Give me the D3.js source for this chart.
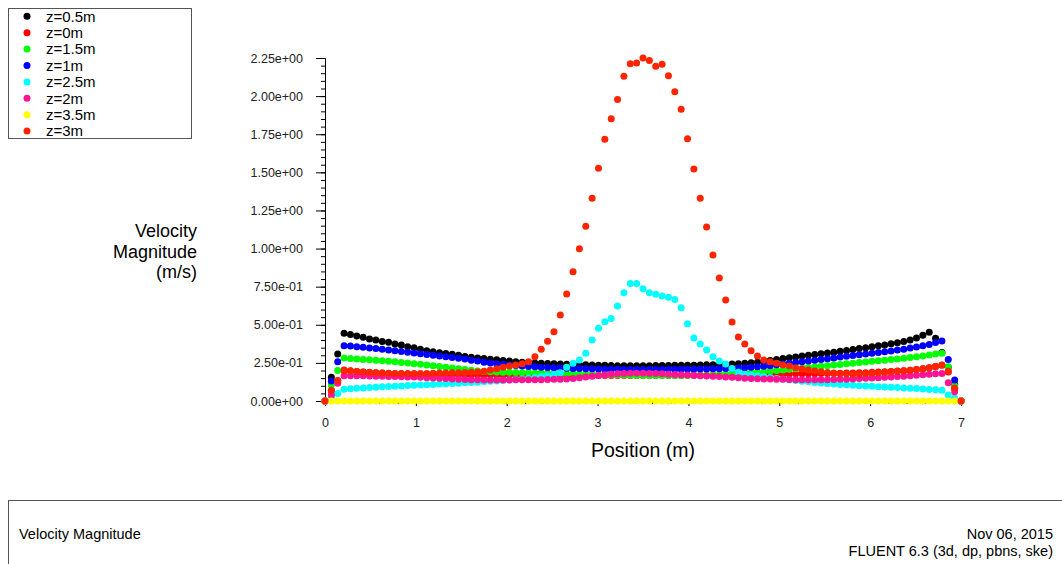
<!DOCTYPE html>
<html>
<head>
<meta charset="utf-8">
<script src="https://cdn.jsdelivr.net/npm/d3@7"></script>
<style>
    body { margin: 0; background: #fff; }
    svg { display: block; font-family: "Liberation Sans", Arial, sans-serif; }
</style>
</head>
<body>
<div id="chart"></div>
<script>
// positions along the line (m)
var positions = [
    0, 0.07, 0.14, 0.21, 0.28, 0.35, 0.42, 0.49, 0.56, 0.63,
    0.7, 0.77, 0.84, 0.91, 0.98, 1.05, 1.12, 1.19, 1.26, 1.33,
    1.4, 1.47, 1.54, 1.61, 1.68, 1.75, 1.82, 1.89, 1.96, 2.03,
    2.1, 2.17, 2.24, 2.31, 2.38, 2.45, 2.52, 2.59, 2.66, 2.73,
    2.8, 2.87, 2.94, 3.01, 3.08, 3.15, 3.22, 3.29, 3.36, 3.43,
    3.5, 3.57, 3.64, 3.71, 3.78, 3.85, 3.92, 3.99, 4.06, 4.13,
    4.2, 4.27, 4.34, 4.41, 4.48, 4.55, 4.62, 4.69, 4.76, 4.83,
    4.9, 4.97, 5.04, 5.11, 5.18, 5.25, 5.32, 5.39, 5.46, 5.53,
    5.6, 5.67, 5.74, 5.81, 5.88, 5.95, 6.02, 6.09, 6.16, 6.23,
    6.3, 6.37, 6.44, 6.51, 6.58, 6.65, 6.72, 6.79, 6.86, 6.93,
    7
];

var z05 = [
    0, 0.156, 0.308, 0.444, 0.437, 0.426, 0.418, 0.407, 0.400, 0.390,
    0.385, 0.374, 0.367, 0.356, 0.350, 0.339, 0.330, 0.323, 0.316, 0.312,
    0.306, 0.300, 0.292, 0.287, 0.282, 0.278, 0.274, 0.270, 0.265, 0.262,
    0.258, 0.255, 0.252, 0.250, 0.248, 0.246, 0.244, 0.243, 0.241, 0.240,
    0.238, 0.237, 0.236, 0.235, 0.234, 0.233, 0.232, 0.232, 0.232, 0.232,
    0.232, 0.232, 0.233, 0.233, 0.233, 0.234, 0.234, 0.235, 0.235, 0.236,
    0.237, 0.238, 0.239, 0.240, 0.242, 0.244, 0.247, 0.251, 0.255, 0.260,
    0.266, 0.272, 0.278, 0.283, 0.289, 0.295, 0.300, 0.305, 0.310, 0.315,
    0.320, 0.326, 0.332, 0.338, 0.344, 0.350, 0.356, 0.362, 0.368, 0.375,
    0.382, 0.390, 0.400, 0.413, 0.432, 0.451, 0.411, 0.318, 0.222, 0.110,
    0
];

var z0 = [
    0, 0.068, 0.133, 0.203, 0.198, 0.194, 0.190, 0.187, 0.185, 0.183,
    0.181, 0.179, 0.178, 0.177, 0.176, 0.175, 0.174, 0.174, 0.173, 0.173,
    0.172, 0.172, 0.172, 0.171, 0.171, 0.171, 0.170, 0.170, 0.170, 0.170,
    0.170, 0.170, 0.170, 0.169, 0.169, 0.169, 0.169, 0.169, 0.169, 0.168,
    0.168, 0.168, 0.168, 0.168, 0.168, 0.168, 0.168, 0.168, 0.168, 0.168,
    0.168, 0.168, 0.168, 0.168, 0.168, 0.168, 0.168, 0.169, 0.169, 0.169,
    0.169, 0.169, 0.169, 0.170, 0.170, 0.170, 0.170, 0.171, 0.172, 0.173,
    0.174, 0.175, 0.176, 0.177, 0.178, 0.178, 0.179, 0.179, 0.180, 0.180,
    0.181, 0.182, 0.183, 0.184, 0.185, 0.186, 0.188, 0.190, 0.192, 0.194,
    0.196, 0.199, 0.202, 0.206, 0.211, 0.218, 0.227, 0.236, 0.190, 0.083,
    0
];

var z15 = [
    0, 0.105, 0.200, 0.282, 0.279, 0.276, 0.273, 0.270, 0.267, 0.264,
    0.261, 0.257, 0.253, 0.249, 0.245, 0.241, 0.236, 0.231, 0.226, 0.221,
    0.216, 0.211, 0.206, 0.201, 0.197, 0.194, 0.192, 0.190, 0.189, 0.188,
    0.187, 0.186, 0.185, 0.184, 0.183, 0.182, 0.181, 0.180, 0.179, 0.178,
    0.177, 0.176, 0.175, 0.174, 0.173, 0.172, 0.171, 0.170, 0.169, 0.168,
    0.168, 0.167, 0.167, 0.167, 0.167, 0.167, 0.168, 0.168, 0.169, 0.170,
    0.171, 0.172, 0.174, 0.176, 0.178, 0.180, 0.183, 0.186, 0.189, 0.192,
    0.196, 0.200, 0.204, 0.208, 0.212, 0.216, 0.220, 0.224, 0.228, 0.232,
    0.236, 0.240, 0.244, 0.248, 0.252, 0.256, 0.260, 0.264, 0.268, 0.272,
    0.276, 0.280, 0.285, 0.290, 0.296, 0.302, 0.308, 0.313, 0.225, 0.100,
    0
];

var z1 = [
    0, 0.131, 0.258, 0.363, 0.360, 0.356, 0.352, 0.348, 0.344, 0.340,
    0.335, 0.330, 0.325, 0.320, 0.315, 0.310, 0.305, 0.300, 0.295, 0.290,
    0.285, 0.280, 0.275, 0.268, 0.262, 0.255, 0.250, 0.245, 0.241, 0.237,
    0.233, 0.230, 0.227, 0.224, 0.222, 0.220, 0.218, 0.216, 0.215, 0.214,
    0.213, 0.212, 0.211, 0.210, 0.209, 0.208, 0.208, 0.207, 0.207, 0.207,
    0.207, 0.207, 0.207, 0.207, 0.208, 0.208, 0.208, 0.209, 0.209, 0.210,
    0.210, 0.211, 0.212, 0.213, 0.214, 0.216, 0.218, 0.221, 0.224, 0.228,
    0.232, 0.237, 0.242, 0.247, 0.252, 0.257, 0.262, 0.267, 0.272, 0.277,
    0.282, 0.288, 0.293, 0.298, 0.303, 0.308, 0.313, 0.318, 0.323, 0.328,
    0.334, 0.340, 0.347, 0.354, 0.362, 0.370, 0.384, 0.394, 0.273, 0.138,
    0
];

var z25 = [
    0, 0.030, 0.050, 0.077, 0.080, 0.083, 0.086, 0.089, 0.091, 0.093,
    0.095, 0.097, 0.099, 0.101, 0.103, 0.105, 0.107, 0.109, 0.111, 0.113,
    0.115, 0.117, 0.119, 0.121, 0.123, 0.126, 0.129, 0.132, 0.135, 0.138,
    0.141, 0.145, 0.149, 0.154, 0.160, 0.166, 0.174, 0.186, 0.221, 0.247,
    0.269, 0.313, 0.400, 0.477, 0.520, 0.542, 0.623, 0.710, 0.770, 0.770,
    0.737, 0.710, 0.700, 0.689, 0.680, 0.665, 0.612, 0.507, 0.413, 0.374,
    0.335, 0.291, 0.262, 0.243, 0.214, 0.188, 0.176, 0.170, 0.166, 0.160,
    0.154, 0.148, 0.143, 0.138, 0.134, 0.130, 0.126, 0.122, 0.118, 0.115,
    0.112, 0.109, 0.106, 0.103, 0.100, 0.098, 0.096, 0.094, 0.092, 0.090,
    0.088, 0.086, 0.084, 0.082, 0.079, 0.076, 0.073, 0.070, 0.040, 0.020,
    0
];

var z2 = [
    0, 0.040, 0.116, 0.166, 0.166, 0.165, 0.165, 0.164, 0.163, 0.162,
    0.161, 0.160, 0.159, 0.158, 0.157, 0.155, 0.153, 0.151, 0.149, 0.147,
    0.145, 0.143, 0.141, 0.140, 0.139, 0.138, 0.138, 0.138, 0.138, 0.138,
    0.139, 0.139, 0.139, 0.140, 0.140, 0.141, 0.142, 0.143, 0.145, 0.148,
    0.152, 0.157, 0.162, 0.167, 0.172, 0.176, 0.179, 0.181, 0.182, 0.182,
    0.182, 0.181, 0.180, 0.178, 0.176, 0.174, 0.172, 0.170, 0.168, 0.166,
    0.164, 0.162, 0.160, 0.158, 0.156, 0.153, 0.150, 0.148, 0.146, 0.145,
    0.144, 0.143, 0.142, 0.141, 0.140, 0.139, 0.139, 0.139, 0.139, 0.140,
    0.141, 0.142, 0.143, 0.145, 0.147, 0.149, 0.151, 0.153, 0.156, 0.158,
    0.161, 0.163, 0.166, 0.169, 0.172, 0.175, 0.178, 0.180, 0.120, 0.060,
    0
];

var z35 = [
    0, 0, 0, 0, 0, 0, 0, 0, 0, 0,
    0, 0, 0, 0, 0, 0, 0, 0, 0, 0,
    0, 0, 0, 0, 0, 0, 0, 0, 0, 0,
    0, 0, 0, 0, 0, 0, 0, 0, 0, 0,
    0, 0, 0, 0, 0, 0, 0, 0, 0, 0,
    0, 0, 0, 0, 0, 0, 0, 0, 0, 0,
    0, 0, 0, 0, 0, 0, 0, 0, 0, 0,
    0, 0, 0, 0, 0, 0, 0, 0, 0, 0,
    0, 0, 0, 0, 0, 0, 0, 0, 0, 0,
    0, 0, 0, 0, 0, 0, 0, 0, 0, 0,
    0
];

var z3 = [
    0, 0.070, 0.135, 0.200, 0.197, 0.193, 0.190, 0.188, 0.186, 0.184,
    0.182, 0.181, 0.180, 0.180, 0.180, 0.180, 0.181, 0.182, 0.183, 0.184,
    0.185, 0.186, 0.187, 0.188, 0.190, 0.195, 0.203, 0.212, 0.221, 0.230,
    0.236, 0.245, 0.258, 0.290, 0.339, 0.392, 0.455, 0.564, 0.702, 0.848,
    0.999, 1.146, 1.330, 1.527, 1.717, 1.852, 1.977, 2.130, 2.213, 2.217,
    2.250, 2.233, 2.196, 2.209, 2.134, 2.029, 1.913, 1.721, 1.522, 1.330,
    1.141, 0.958, 0.807, 0.663, 0.518, 0.420, 0.374, 0.330, 0.295, 0.269,
    0.258, 0.247, 0.236, 0.230, 0.218, 0.210, 0.203, 0.197, 0.192, 0.187,
    0.183, 0.180, 0.178, 0.177, 0.178, 0.180, 0.183, 0.186, 0.189, 0.192,
    0.195, 0.198, 0.202, 0.206, 0.211, 0.218, 0.226, 0.234, 0.195, 0.085,
    0
];

var seriesNames = ["z=0.5m", "z=0m", "z=1.5m", "z=1m", "z=2.5m", "z=2m", "z=3.5m", "z=3m"];
var seriesValues = [z05, z0, z15, z1, z25, z2, z35, z3];
var seriesColors = ["#000000", "#ff0000", "#00ff00", "#0000ff", "#00ffff", "#ff1493", "#ffff00", "#ff2400"];

var yTicks = [0, 0.25, 0.5, 0.75, 1, 1.25, 1.5, 1.75, 2, 2.25];
var xTicks = [0, 1, 2, 3, 4, 5, 6, 7];

var totalWidth = 1062,
    totalHeight = 564,
    radius = 3.5,
    font = "'Liberation Sans', Arial, sans-serif";

var svg = d3.select("#chart").append("svg")
    .attr("width", totalWidth)
    .attr("height", totalHeight);

svg.append("rect")
    .attr("width", totalWidth)
    .attr("height", totalHeight)
    .attr("fill", "#fff");

var xScale = d3.scaleLinear().domain([0, 7]).range([325, 961]);
var yScale = d3.scaleLinear().domain([0, 2.25]).range([401, 58]);

// Fluent style labels: 2.25e+00
function sciFormat(d) {
    var s = d.toExponential(2).split("e");
    var ex = +s[1];
    return s[0] + "e" + (ex < 0 ? "-" : "+") + (Math.abs(ex) < 10 ? "0" : "") + Math.abs(ex);
}

// y axis, minor ticks first
var yMinor = svg.append("g")
    .attr("transform", "translate(" + xScale(0) + ",0)")
    .call(d3.axisLeft(yScale).tickValues(d3.range(0, 2.2501, 0.05)).tickSize(4).tickFormat(""));

var yAxisG = svg.append("g")
    .attr("transform", "translate(" + xScale(0) + ",0)")
    .call(d3.axisLeft(yScale).tickValues(yTicks).tickSize(9).tickPadding(13).tickFormat(sciFormat));

yAxisG.selectAll("text")
    .attr("font-family", font)
    .attr("font-size", "12.5px")
    .attr("fill", "#222");

var xMinor = svg.append("g")
    .attr("transform", "translate(0," + yScale(0) + ")")
    .call(d3.axisBottom(xScale).tickValues(d3.range(0, 7.001, 0.2)).tickSize(3).tickFormat(""));

var xAxisG = svg.append("g")
    .attr("transform", "translate(0," + yScale(0) + ")")
    .call(d3.axisBottom(xScale).tickValues(xTicks).tickSize(5).tickPadding(12).tickFormat(d3.format("d")));

xAxisG.selectAll("text")
    .attr("font-family", font)
    .attr("font-size", "12.5px")
    .attr("fill", "#222");

svg.selectAll(".domain").attr("stroke", "#000");
svg.selectAll(".tick line").attr("stroke", "#000");

// axis titles
svg.append("text")
    .attr("x", (xScale(0) + xScale(7)) / 2)
    .attr("y", 457)
    .attr("text-anchor", "middle")
    .attr("font-family", font)
    .attr("font-size", "19.5px")
    .attr("fill", "#000")
    .text("Position (m)");

var yTitle = ["Velocity", "Magnitude", "(m/s)"];
svg.append("g").selectAll("text")
    .data(yTitle)
    .enter().append("text")
    .attr("x", 197)
    .attr("y", function(d, i) { return 237 + i * 20.5; })
    .attr("text-anchor", "end")
    .attr("font-family", font)
    .attr("font-size", "18px")
    .attr("fill", "#000")
    .text(function(d) { return d; });

// points, one group per series in legend order
seriesValues.forEach(function(vals, k) {
    svg.append("g")
        .selectAll("circle")
        .data(vals)
        .enter().append("circle")
        .attr("cx", function(d, i) { return xScale(positions[i]); })
        .attr("cy", function(d) { return yScale(d); })
        .attr("r", radius)
        .attr("fill", seriesColors[k]);
});

// legend
var legend = svg.append("g");
legend.append("rect")
    .attr("x", 8.5)
    .attr("y", 8.5)
    .attr("width", 183)
    .attr("height", 130)
    .attr("fill", "#fff")
    .attr("stroke", "#555");

var rows = legend.selectAll("g.row")
    .data(seriesNames)
    .enter().append("g")
    .attr("class", "row")
    .attr("transform", function(d, i) { return "translate(0," + (16.3 + i * 16.4) + ")"; });

rows.append("circle")
    .attr("cx", 27)
    .attr("cy", 0)
    .attr("r", radius)
    .attr("fill", function(d, i) { return seriesColors[i]; });

rows.append("text")
    .attr("x", 46)
    .attr("y", 5.2)
    .attr("font-family", font)
    .attr("font-size", "15px")
    .attr("fill", "#000")
    .text(function(d) { return d; });

// footer panel
svg.append("rect")
    .attr("x", 8.5)
    .attr("y", 500.5)
    .attr("width", 1070)
    .attr("height", 80)
    .attr("fill", "none")
    .attr("stroke", "#555");

svg.append("text")
    .attr("x", 19)
    .attr("y", 539)
    .attr("font-family", font)
    .attr("font-size", "14.5px")
    .attr("fill", "#000")
    .text("Velocity Magnitude");

svg.append("text")
    .attr("x", 1053)
    .attr("y", 539)
    .attr("text-anchor", "end")
    .attr("font-family", font)
    .attr("font-size", "14.5px")
    .attr("fill", "#000")
    .text("Nov 06, 2015");

svg.append("text")
    .attr("x", 1053)
    .attr("y", 556)
    .attr("text-anchor", "end")
    .attr("font-family", font)
    .attr("font-size", "14.5px")
    .attr("fill", "#000")
    .text("FLUENT 6.3 (3d, dp, pbns, ske)");
</script>
</body>
</html>
